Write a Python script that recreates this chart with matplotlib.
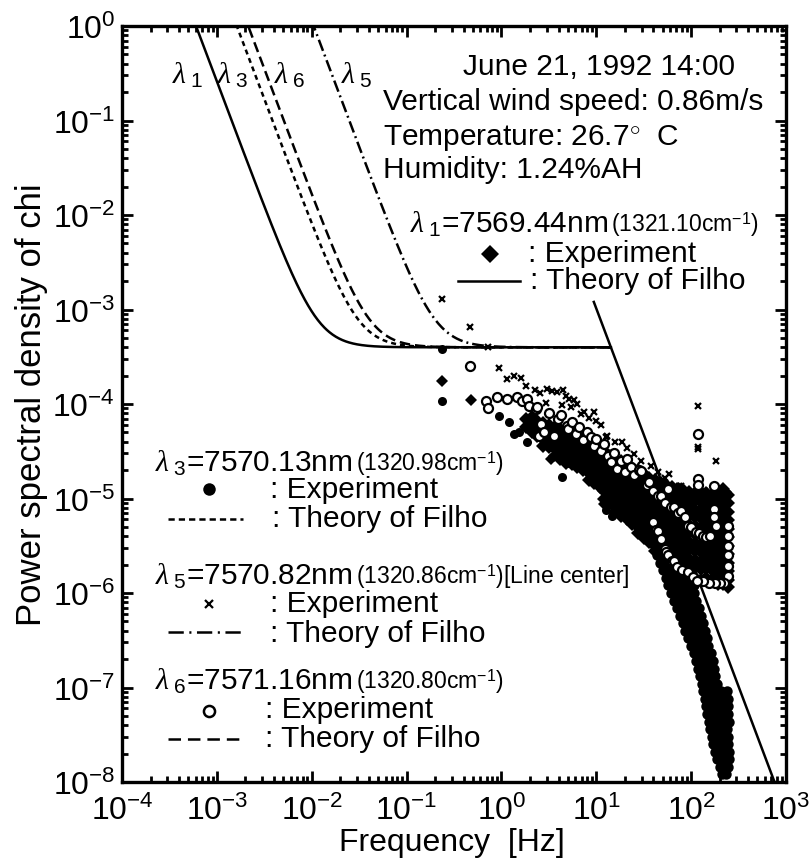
import numpy as np
import matplotlib
matplotlib.use('Agg')
import matplotlib.pyplot as plt
from matplotlib.lines import Line2D
from matplotlib.ticker import LogLocator, NullFormatter

plt.rcParams['font.family'] = ['Liberation Sans', 'DejaVu Sans']
plt.rcParams['mathtext.fontset'] = 'custom'
plt.rcParams['mathtext.rm'] = 'Liberation Sans'
plt.rcParams['mathtext.it'] = 'Liberation Serif:italic'
plt.rcParams['mathtext.bf'] = 'Liberation Sans:bold'
plt.rcParams['lines.scale_dashes'] = False

# ---------------- data (log10 units) ----------------
# Theory of Filho: low-frequency f^-8/3 branch + plateau, high-frequency f^-8/3 roll-off
theory_labels = ['1', '3', '6', '5']
theory_logf0 = [-3.22, -2.79, -2.67, -1.98]      # log10 f where PSD = 1
plateau_logp = -3.40
spectral_slope = -8.0 / 3.0
rolloff_start = (0.974, -2.92)                    # (log f, log P) top of roll-off line
rolloff_end_logf = 3.0

# lambda1 (diamonds): sparse points
lam1_logf = [-0.624, -0.325, 0.52, 0.555, 1.083, 1.117, 1.15]
lam1_logp = [-3.754, -3.958, -4.58, -4.547, -5.06, -5.04, -5.03]
# lambda1 dense cloud, column by column
lam1_columns = [
    (0.26, [-4.16, -4.24]),
    (0.32, [-4.14, -4.22, -4.30]),
    (0.38, [-4.18, -4.26, -4.34]),
    (0.44, [-4.20, -4.28, -4.37, -4.44]),
    (0.50, [-4.22, -4.30, -4.38, -4.46]),
    (0.56, [-4.24, -4.32, -4.40, -4.48]),
    (0.62, [-4.26, -4.34, -4.42, -4.51, -4.58]),
    (0.68, [-4.28, -4.36, -4.44, -4.53, -4.62]),
    (0.74, [-4.30, -4.38, -4.47, -4.55, -4.64]),
    (0.80, [-4.33, -4.41, -4.50, -4.58, -4.67]),
    (0.86, [-4.36, -4.44, -4.52, -4.61, -4.70]),
    (0.92, [-4.38, -4.46, -4.55, -4.64, -4.73, -4.80]),
    (0.98, [-4.42, -4.50, -4.58, -4.67, -4.76, -4.84]),
    (1.04, [-4.45, -4.53, -4.62, -4.70, -4.79, -4.88]),
    (1.08, [-4.50, -4.58, -4.66, -4.75, -4.84, -4.92, -5.00]),
    (1.14, [-4.55, -4.63, -4.71, -4.80, -4.88, -4.96, -5.05]),
    (1.20, [-4.58, -4.66, -4.74, -4.82, -4.90, -4.99, -5.08, -5.14]),
    (1.26, [-4.60, -4.68, -4.77, -4.86, -4.94, -5.02, -5.10, -5.18]),
    (1.32, [-4.64, -4.72, -4.80, -4.88, -4.97, -5.06, -5.14, -5.22]),
    (1.38, [-4.68, -4.76, -4.84, -4.93, -5.01, -5.10, -5.18, -5.27]),
    (1.44, [-4.70, -4.78, -4.87, -4.95, -5.04, -5.12, -5.21, -5.30, -5.36]),
    (1.50, [-4.74, -4.82, -4.90, -4.99, -5.07, -5.16, -5.25, -5.33, -5.42]),
    (1.56, [-4.78, -4.86, -4.94, -5.03, -5.11, -5.20, -5.28, -5.37, -5.46]),
    (1.62, [-4.80, -4.88, -4.97, -5.06, -5.14, -5.23, -5.32, -5.40, -5.50, -5.56]),
    (1.68, [-4.84, -4.92, -5.00, -5.09, -5.18, -5.26, -5.35, -5.44, -5.52, -5.60]),
    (1.74, [-4.86, -4.94, -5.03, -5.12, -5.20, -5.29, -5.38, -5.46, -5.55, -5.64]),
    (1.80, [-4.88, -4.96, -5.05, -5.14, -5.22, -5.31, -5.40, -5.49, -5.58, -5.66, -5.72]),
    (1.86, [-4.90, -4.98, -5.07, -5.16, -5.24, -5.33, -5.42, -5.50, -5.59, -5.68, -5.76]),
    (1.92, [-4.92, -5.00, -5.09, -5.18, -5.27, -5.35, -5.44, -5.53, -5.62, -5.70, -5.78]),
    (1.98, [-4.93, -5.02, -5.10, -5.19, -5.28, -5.37, -5.46, -5.55, -5.64, -5.72, -5.82]),
    (2.04, [-4.94, -5.03, -5.12, -5.20, -5.29, -5.38, -5.47, -5.56, -5.65, -5.74, -5.84]),
    (2.10, [-4.95, -5.04, -5.12, -5.21, -5.30, -5.39, -5.48, -5.57, -5.66, -5.75, -5.86]),
    (2.16, [-4.94, -5.02, -5.11, -5.20, -5.29, -5.38, -5.47, -5.56, -5.65, -5.74, -5.84]),
    (2.22, [-4.95, -5.04, -5.13, -5.22, -5.31, -5.40, -5.49, -5.58, -5.67, -5.76, -5.86]),
    (2.28, [-4.92, -5.01, -5.10, -5.19, -5.28, -5.37, -5.46, -5.55, -5.64, -5.73, -5.83, -5.90]),
    (2.34, [-4.90, -4.99, -5.08, -5.17, -5.26, -5.35, -5.44, -5.53, -5.62, -5.71, -5.80, -5.90]),
    (2.39, [-4.96, -5.05, -5.14, -5.23, -5.32, -5.41, -5.50, -5.59, -5.68, -5.77, -5.86, -5.94]),
]

# lambda3 (filled circles): sparse points
lam3_logf = [-0.624, -0.624, -0.026, 0.08, 0.133, 0.18, 0.273, 0.643, 0.696, 1.10, 1.17, 1.206]
lam3_logp = [-3.418, -3.965, -4.124, -4.19, -4.32, -4.30, -4.40, -4.776, -4.62, -5.12, -5.18, -5.04]
# lambda3 dense band, row by row (log P, list of log f)
lam3_rows = [
    (-5.60, [1.64, 1.70, 1.76, 1.82, 1.88, 1.93]),
    (-5.68, [1.67, 1.73, 1.79, 1.85, 1.91, 1.95]),
    (-5.76, [1.70, 1.76, 1.82, 1.88, 1.94, 1.98]),
    (-5.84, [1.73, 1.79, 1.85, 1.91, 1.97, 2.01]),
    (-5.92, [1.76, 1.82, 1.88, 1.94, 2.00, 2.03]),
    (-6.00, [1.79, 1.85, 1.91, 1.97, 2.03]),
    (-6.08, [1.82, 1.88, 1.94, 2.00, 2.05]),
    (-6.16, [1.85, 1.91, 1.97, 2.03, 2.08]),
    (-6.24, [1.88, 1.94, 2.00, 2.06, 2.10]),
    (-6.32, [1.91, 1.97, 2.03, 2.09, 2.12]),
    (-6.40, [1.94, 2.00, 2.06, 2.12, 2.15]),
    (-6.48, [1.97, 2.03, 2.09, 2.14, 2.17]),
    (-6.56, [2.00, 2.06, 2.12, 2.18]),
    (-6.64, [2.03, 2.09, 2.15, 2.21]),
    (-6.72, [2.05, 2.11, 2.17, 2.23]),
    (-6.80, [2.07, 2.13, 2.19, 2.24]),
    (-6.88, [2.09, 2.15, 2.21, 2.25]),
    (-6.96, [2.11, 2.17, 2.23, 2.27]),
    (-7.04, [2.13, 2.19, 2.25, 2.32, 2.38]),
    (-7.12, [2.15, 2.21, 2.27, 2.33, 2.39]),
    (-7.20, [2.16, 2.22, 2.28, 2.34, 2.39]),
    (-7.28, [2.17, 2.23, 2.29, 2.35, 2.39]),
    (-7.36, [2.19, 2.25, 2.31, 2.37, 2.40]),
    (-7.44, [2.20, 2.26, 2.32, 2.38]),
    (-7.52, [2.22, 2.28, 2.34, 2.39]),
    (-7.60, [2.23, 2.29, 2.35, 2.39]),
    (-7.68, [2.25, 2.31, 2.36, 2.40]),
    (-7.76, [2.27, 2.32, 2.37, 2.40]),
    (-7.84, [2.30, 2.35, 2.39]),
    (-7.92, [2.33, 2.37]),
]

# lambda5 (crosses)
lam5_logf = [-0.625, -0.333, -0.146, -0.026, 0.055, 0.132, 0.203, 0.262, 0.35, 0.407,
             0.484, 0.537, 0.59, 0.653, 0.678, 0.713, 0.643, 0.73, 0.474, 0.76, 0.80,
             0.837, 0.871, 0.92, 0.977, 0.995, 1.05, 1.10, 1.118, 1.20, 1.276, 1.32,
             1.40, 1.47, 1.575, 1.65, 1.72, 1.77, 1.874, 1.893, 1.998, 2.068, 2.068,
             2.068, 2.15, 2.262, 2.30, 2.385]
lam5_logp = [-2.889, -3.189, -3.397, -3.623, -3.736, -3.707, -3.729, -3.813, -3.848, -3.884,
             -3.841, -3.859, -3.877, -3.848, -3.919, -3.947, -4.011, -4.035, -3.99, -3.96, -4.00,
             -4.106, -4.088, -4.15, -4.088, -4.176, -4.22, -4.35, -4.335, -4.40, -4.405, -4.47,
             -4.529, -4.60, -4.652, -4.72, -4.78, -4.74, -4.864, -4.865, -4.97, -4.017, -4.459,
             -4.476, -4.92, -4.60, -4.92, -4.953]

# lambda6 (open circles)
lam6_logf = [-0.333, -0.16, -0.14, -0.044, 0.062, 0.167, 0.22, 0.273, 0.291, 0.361, 0.379,
             0.397, 0.414, 0.45, 0.50, 0.554, 0.60, 0.625, 0.695, 0.70, 0.74, 0.784, 0.82,
             0.86, 0.90, 0.942, 0.98, 1.00, 1.048, 1.08, 1.12, 1.153, 1.19, 1.223, 1.26,
             1.30, 1.329, 1.364, 1.40, 1.45, 1.47, 1.53, 1.558, 1.60, 1.65, 1.681, 1.72,
             1.751, 1.79, 1.822, 1.86, 1.892, 1.93, 1.963, 2.00, 2.05, 2.08, 2.12, 2.16,
             2.20, 2.24, 2.26, 2.385, 2.39, 2.39, 2.39, 2.39, 2.39, 2.35, 2.30, 2.25, 2.19,
             2.12, 1.60, 1.63, 1.646, 1.681, 1.72, 1.734, 1.76, 1.80, 1.822, 1.85, 1.90,
             1.963, 2.02, 2.06, 2.068, 2.068, 2.068, 2.24, 2.245, 2.245]
lam6_logp = [-3.594, -3.97, -4.04, -3.93, -3.947, -3.93, -3.965, -3.947, -4.018, -4.053, -4.036,
             -4.336, -4.21, -4.30, -4.10, -4.335, -4.16, -4.12, -4.23, -4.26, -4.19, -4.318, -4.24,
             -4.38, -4.30, -4.353, -4.44, -4.37, -4.494, -4.42, -4.55, -4.617, -4.52, -4.687, -4.60,
             -4.72, -4.58, -4.67, -4.75, -4.70, -4.705, -4.86, -4.829, -4.92, -4.97, -4.97, -5.05,
             -4.90, -5.09, -5.093, -5.15, -5.128, -5.20, -5.287, -5.30, -5.358, -5.37, -5.40, -5.41,
             -5.40, -5.22, -5.29, -5.29, -5.40, -5.50, -5.60, -5.71, -5.82, -5.89, -5.89, -5.89, -5.89,
             -5.87, -5.25, -5.33, -5.34, -5.428, -5.53, -5.57, -5.60, -5.66, -5.657, -5.72, -5.76,
             -5.78, -5.83, -5.87, -4.318, -4.79, -4.86, -4.864, -5.11, -5.20]

# ---------------- figure ----------------
W, H = 811, 862
fig = plt.figure(figsize=(W / 100, H / 100), dpi=100)
ax = fig.add_axes([122 / W, 1 - 783 / H, (786 - 122) / W, (783 - 27) / H])
ax.set_xscale('log')
ax.set_yscale('log')
ax.set_xlim(1e-4, 1e3)
ax.set_ylim(1e-8, 1e0)

LW = 1.8
dash_styles = {'1': '-', '3': (0, (3.6, 2.9)), '6': (0, (7.5, 3.6)), '5': (0, (8.5, 2.9, 1.4, 2.9))}

# theory curves
cut_logf = rolloff_start[0] + (plateau_logp - rolloff_start[1]) / spectral_slope
fgrid = np.logspace(-4, cut_logf, 600)
for lab, lf0 in zip(theory_labels, theory_logf0):
    p = 10 ** plateau_logp + (fgrid / 10 ** lf0) ** spectral_slope
    ax.plot(fgrid, p, color='black', lw=LW, linestyle=dash_styles[lab], zorder=3)
fr = np.logspace(rolloff_start[0], rolloff_end_logf, 50)
pr = 10 ** (rolloff_start[1] + spectral_slope * (np.log10(fr) - rolloff_start[0]))
ax.plot(fr, pr, color='black', lw=LW, zorder=3)

# experiment points
c1f = [c[0] for c in lam1_columns for _ in c[1]]
c1p = [v for c in lam1_columns for v in c[1]]
ax.plot(10 ** np.array(c1f), 10 ** np.array(c1p), 'D', color='black', ms=7.5, mew=0, zorder=4)
ax.plot(10 ** np.array(lam1_logf), 10 ** np.array(lam1_logp), 'D', color='black', ms=6, mew=0, zorder=4)

r3f = [v for r in lam3_rows for v in r[1]]
r3p = [r[0] for r in lam3_rows for _ in r[1]]
ax.plot(10 ** np.array(r3f), 10 ** np.array(r3p), 'o', color='black', ms=7.5, mew=0, zorder=4)
ax.plot(10 ** np.array(lam3_logf), 10 ** np.array(lam3_logp), 'o', color='black', ms=6.5, mew=0, zorder=4)

ax.plot(10 ** np.array(lam5_logf), 10 ** np.array(lam5_logp), 'x', color='black', ms=4.5, mew=1.6, zorder=5)
ax.plot(10 ** np.array(lam6_logf), 10 ** np.array(lam6_logp), 'o', mfc='white', mec='black',
        ms=6.5, mew=1.6, zorder=6)

# axes styling
for s in ax.spines.values():
    s.set_linewidth(2.4)
ax.xaxis.set_major_locator(LogLocator(base=10, numticks=20))
ax.yaxis.set_major_locator(LogLocator(base=10, numticks=20))
ax.xaxis.set_minor_locator(LogLocator(base=10, subs=np.arange(2, 10), numticks=20))
ax.yaxis.set_minor_locator(LogLocator(base=10, subs=np.arange(2, 10), numticks=20))
ax.xaxis.set_minor_formatter(NullFormatter())
ax.yaxis.set_minor_formatter(NullFormatter())
ax.tick_params(which='both', direction='in', top=True, right=True, width=2.0)
ax.tick_params(which='major', length=8, labelsize=23)
ax.tick_params(axis='x', which='major', pad=9)
ax.tick_params(axis='y', which='major', pad=5)
ax.tick_params(which='minor', length=4)

# ---------------- annotations ----------------
def P(x, y):
    return (x / W, 1 - y / H)

fig.text(*P(452, 843), 'Frequency  [Hz]', fontsize=23, ha='center', va='center')
fig.text(*P(32, 405), 'Power spectral density of chi', fontsize=25, ha='center', va='center',
         rotation=90)

FS = 21.5
SM = 16.5
# curve labels at top
for lab, x in zip(['1', '3', '6', '5'], [172, 217, 274, 341]):
    fig.text(*P(x, 84), r'$\lambda_{\ %s}$' % lab, fontsize=FS, va='baseline')

# condition text
fig.text(*P(463, 75), 'June 21, 1992 14:00', fontsize=FS, va='baseline')
fig.text(*P(383, 110), 'Vertical wind speed: 0.86m/s', fontsize=FS, va='baseline')
fig.text(*P(383, 145), 'Temperature: 26.7$^{\\circ}$  C', fontsize=FS, va='baseline')
fig.text(*P(383, 178), 'Humidity: 1.24%AH', fontsize=FS, va='baseline')

def title(x, y, lab, nm, cm, extra=''):
    t = fig.text(*P(x, y), r'$\lambda_{\ %s}$=%snm ' % (lab, nm), fontsize=FS, va='baseline')
    fig.canvas.draw()
    ax.annotate('(%scm$^{-1}$)%s' % (cm, extra), xy=(1, 0), xycoords=t,
                xytext=(1, 0), textcoords='offset points', fontsize=SM, va='bottom', ha='left')

def legline(x0, x1, y, ls):
    a, b = P(x0, y), P(x1, y)
    fig.add_artist(Line2D([a[0], b[0]], [a[1], b[1]], transform=fig.transFigure,
                          color='black', lw=LW, linestyle=ls))

def legmark(x, y, **kw):
    a = P(x, y)
    fig.add_artist(Line2D([a[0]], [a[1]], transform=fig.transFigure, color='black',
                          linestyle='none', **kw))

# lambda1 block
title(410, 233, '1', '7569.44', '1321.10')
legmark(490, 255, marker='D', ms=9, mew=0)
fig.text(*P(528, 262), ': Experiment', fontsize=FS, va='baseline')
legline(458, 520, 282, '-')
fig.text(*P(530, 289), ': Theory of Filho', fontsize=FS, va='baseline')

# lambda3 block
title(155, 472, '3', '7570.13', '1320.98')
legmark(209, 490, marker='o', ms=9, mew=0)
fig.text(*P(270, 498), ': Experiment', fontsize=FS, va='baseline')
legline(168, 243, 520, (0, (4.5, 2.9)))
fig.text(*P(272, 527), ': Theory of Filho', fontsize=FS, va='baseline')

# lambda5 block
title(155, 585, '5', '7570.82', '1320.86', '[Line center]')
legmark(209, 605, marker='x', ms=6, mew=1.6)
fig.text(*P(270, 612), ': Experiment', fontsize=FS, va='baseline')
legline(168, 243, 633, (0, (11, 4, 1.5, 4)))
fig.text(*P(270, 642), ': Theory of Filho', fontsize=FS, va='baseline')

# lambda6 block
title(155, 690, '6', '7571.16', '1320.80')
legmark(209, 712, marker='o', ms=8, mew=1.8, mfc='white', mec='black')
fig.text(*P(265, 718), ': Experiment', fontsize=FS, va='baseline')
legline(168, 243, 740, (0, (9, 5)))
fig.text(*P(265, 747), ': Theory of Filho', fontsize=FS, va='baseline')

fig.savefig('out.png', dpi=100)
